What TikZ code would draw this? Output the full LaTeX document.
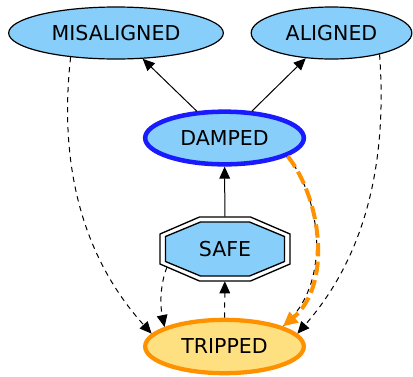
\documentclass[tikz,border=0pt]{standalone}
\usepackage{fontspec}
\setmainfont{DejaVu Sans}
\usetikzlibrary{arrows.meta,shapes.geometric}

\definecolor{stateblue}{RGB}{135,206,250}
\definecolor{damperblue}{RGB}{26,26,255}
\definecolor{tripfill}{RGB}{255,224,128}
\definecolor{triporange}{RGB}{255,145,0}

\tikzset{
  state/.style={ellipse, draw=black, line width=0.9pt, fill=stateblue,
    inner sep=0pt, font=\fontsize{15.4}{18}\selectfont},
  head/.style={-{Triangle[length=9pt,width=8pt]}},
  edge/.style={head, line width=0.75pt, black},
  dashedge/.style={edge, dash pattern=on 4pt off 3.5pt},
  tripedge/.style={-{Triangle[length=11pt,width=10pt]}, line width=3pt,
    triporange, dash pattern=on 10pt off 4pt},
  octo/.style={draw=black, line width=1pt},
}

\begin{document}
\begin{tikzpicture}[x=0.75pt,y=-0.75pt]
  \useasboundingbox (0,0) rectangle (413,376);

  % ellipse states
  \node[state, minimum width=161pt, minimum height=39pt] (mis) at (116,33) {MISALIGNED};
  \node[state, minimum width=120.5pt, minimum height=39pt] (ali) at (331.5,33) {ALIGNED};
  \node[state, draw=damperblue, line width=3.4pt, minimum width=119pt, minimum height=39.5pt]
    (damp) at (224.5,138) {DAMPED};
  \node[state, draw=triporange, fill=tripfill, line width=3.2pt, minimum width=119pt,
    minimum height=40pt] (trip) at (224.5,346.5) {TRIPPED};

  % double octagon for the safe state
  \begin{scope}[shift={(225,249)}]
    \filldraw[octo, fill=white] (-25.5,-32) -- (25.5,-32) -- (65,-15) -- (65,15)
      -- (25.5,32) -- (-25.5,32) -- (-65,15) -- (-65,-15) -- cycle;
    \filldraw[octo, fill=stateblue] (-24.5,-27) -- (24.5,-27) -- (59.5,-12.5) -- (59.5,12.5)
      -- (24.5,27) -- (-24.5,27) -- (-59.5,12.5) -- (-59.5,-12.5) -- cycle;
  \end{scope}
  \node[minimum width=97.5pt, minimum height=48pt, inner sep=0pt,
    font=\fontsize{15.4}{18}\selectfont] (safe) at (225,249) {SAFE};
  \coordinate (safesw) at (167,267);

  % solid transitions
  \draw[edge] (damp) -- (mis);
  \draw[edge] (damp) -- (ali);
  \draw[edge] (safe) -- (damp);

  % dashed transitions into the tripped state
  \draw[dashedge] (mis.208) .. controls (58,170) and (85,260) .. (trip.170);
  \draw[dashedge] (ali.-24) .. controls (388,170) and (362,260) .. (trip.10);
  \draw[dashedge] (safesw) .. controls (160,285) and (160,305) .. (trip.162);
  \draw[dashedge] (trip) -- (safe);

  % damper trip path
  \draw[line width=0.75pt, dash pattern=on 4pt off 3.5pt]
    (damp.-16) .. controls (322,200) and (332,285) .. (trip.19);
  \draw[tripedge] (damp.-16) .. controls (322,200) and (332,285) .. (trip.19);
\end{tikzpicture}
\end{document}
